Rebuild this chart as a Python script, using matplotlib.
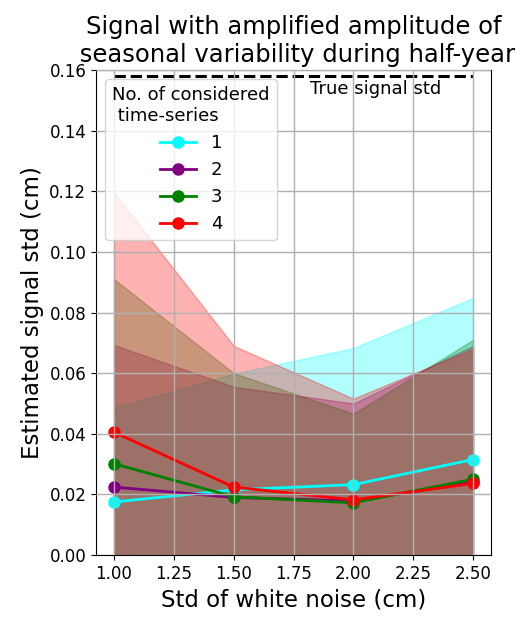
import numpy as np
from matplotlib import pyplot as plt

noise = [1.0, 1.5, 2.0, 2.5]
series_names = ['1', '2', '3', '4']
colors = ['cyan', 'purple', 'green', 'red']

mean_std = [
    [0.0175, 0.0215, 0.0232, 0.0315],
    [0.0224, 0.0190, 0.0178, 0.0240],
    [0.0301, 0.0192, 0.0172, 0.0250],
    [0.0405, 0.0224, 0.0182, 0.0236],
]
upper_std = [
    [0.0486, 0.0598, 0.0683, 0.0848],
    [0.0693, 0.0555, 0.0500, 0.0690],
    [0.0910, 0.0600, 0.0466, 0.0710],
    [0.1196, 0.0690, 0.0516, 0.0680],
]
true_std = 0.158

fig = plt.figure(figsize=(5.28, 6.17), dpi=100)
ax = fig.add_axes([0.182, 0.1005, 0.748, 0.786])

for name, c, m, u in zip(series_names, colors, mean_std, upper_std):
    ax.fill_between(noise, 0, u, color=c, alpha=0.3)
for name, c, m, u in zip(series_names, colors, mean_std, upper_std):
    ax.plot(noise, m, '-o', color=c, lw=2, ms=8, label=name)

ax.plot([noise[0], noise[-1]], [true_std, true_std], 'k--', lw=2.2)
ax.text(1.82, 0.1537, 'True signal std', fontsize=13, ha='left', va='center')

ax.set_ylim(0, 0.16)
ax.set_xticks(np.arange(1.0, 2.51, 0.25))
ax.set_yticks(np.arange(0, 0.161, 0.02))
ax.tick_params(labelsize=12)
ax.grid(True, color='#b0b0b0', lw=1)
ax.set_axisbelow(False)

ax.set_title('Signal with amplified amplitude of\n seasonal variability during half-year', fontsize=17.5)
ax.set_xlabel('Std of white noise (cm)', fontsize=16.5)
ax.set_ylabel('Estimated signal std (cm)', fontsize=16.5)

leg = ax.legend(title='No. of considered\n time-series', loc='upper left',
                fontsize=13, title_fontsize=13)

plt.savefig('out.png')
